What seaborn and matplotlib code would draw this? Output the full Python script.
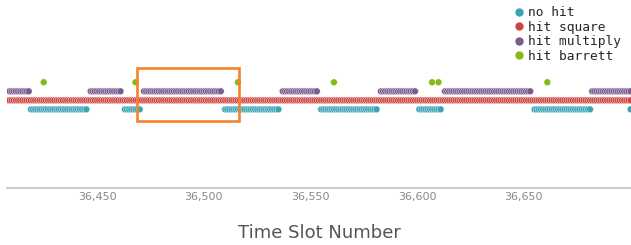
import matplotlib
matplotlib.use("Agg")
import matplotlib.pyplot as plt
import seaborn as sns
import pandas as pd
from matplotlib.patches import Rectangle
from matplotlib.ticker import FuncFormatter

# ---- data (run-length segments of time slots per state) ----
states = ["no hit", "hit square", "hit multiply", "hit barrett"]
state_level = [0, 1, 2, 3]
colors = ["#3ba3b5", "#cc4541", "#7d5b8c", "#86b817"]

no_hit_runs = [(36419, 36445), (36463, 36470), (36510, 36535), (36555, 36581),
               (36601, 36611), (36655, 36681), (36700, 36700)]
square_runs = [(36408, 36700)]
multiply_runs = [(36409, 36418), (36447, 36461), (36472, 36508), (36537, 36553),
                 (36583, 36599), (36613, 36653), (36682, 36700)]
barrett_slots = [36425, 36468, 36516, 36561, 36607, 36610, 36661]

highlight_start, highlight_end = 36468.7, 36516.5
x_ticks = [36450, 36500, 36550, 36600, 36650]
x_label = "Time Slot Number"

# ---- build table ----
rows = []
def add_runs(runs, state):
    for a, b in runs:
        for t in range(a, b + 1):
            rows.append((t, state))
add_runs(no_hit_runs, "no hit")
add_runs(square_runs, "hit square")
add_runs(multiply_runs, "hit multiply")
for t in barrett_slots:
    rows.append((t, "hit barrett"))
df = pd.DataFrame(rows, columns=["slot", "state"])
df["level"] = df["state"].map(dict(zip(states, state_level)))

sns.set_theme(style="white")
fig = plt.figure(figsize=(6.31, 2.45), dpi=100)
ax = fig.add_axes([7 / 631, 57 / 245, 624 / 631, 188 / 245])

sns.scatterplot(data=df, x="slot", y="level", hue="state", hue_order=states,
                palette=colors, s=24, edgecolor="white", linewidth=0.3,
                ax=ax, legend=False, zorder=3)

ax.add_patch(Rectangle((highlight_start, -1.3), highlight_end - highlight_start, 5.9,
                       fill=False, edgecolor="#f7812a", linewidth=1.9, zorder=5))

ax.set_xlim(36407.8, 36700.2)
ax.set_ylim(-8.7, 12.1)
ax.set_yticks([])
ax.set_xticks(x_ticks)
ax.xaxis.set_major_formatter(FuncFormatter(lambda v, p: f"{int(v):,}"))
ax.tick_params(axis="x", colors="#999999", labelsize=8, length=2, width=0.6,
               direction="in", pad=3)
for lab in ax.get_xticklabels():
    lab.set_color("#888888")
ax.set_xlabel(x_label, fontsize=13, color="#555555", labelpad=16)
ax.set_ylabel("")
for side in ["top", "left", "right"]:
    ax.spines[side].set_visible(False)
ax.spines["bottom"].set_color("#cccccc")
ax.spines["bottom"].set_linewidth(1.5)

# legend
handles = [plt.Line2D([], [], marker="o", linestyle="", markersize=5,
                      markerfacecolor=c, markeredgecolor=c) for c in colors]
leg = ax.legend(handles, states, loc="upper left", bbox_to_anchor=(500 / 624, 0.995),
                frameon=False, handletextpad=0.25, labelspacing=0.12,
                prop={"family": "DejaVu Sans Mono", "size": 9.3}, handlelength=1.0,
                borderaxespad=0)

fig.savefig("out.png", dpi=100)
